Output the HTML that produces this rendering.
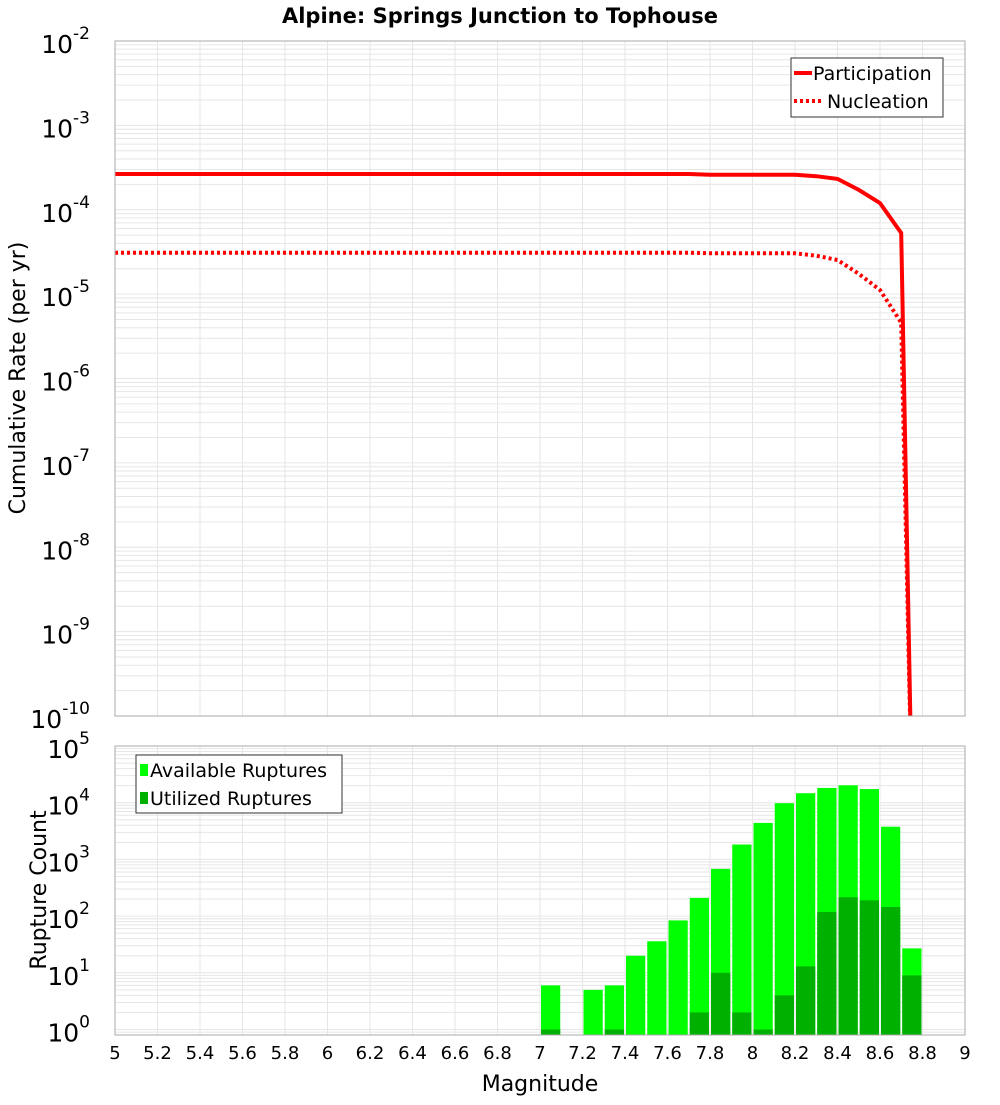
<!DOCTYPE html>
<html><head><meta charset="utf-8"><style>
body{margin:0;background:#fff;}
svg text{font-family:"DejaVu Sans","Liberation Sans",sans-serif;}
</style></head><body>
<svg id="chart" width="1000" height="1100" xmlns="http://www.w3.org/2000/svg">
<text x="500" y="23" text-anchor="middle" font-size="21" font-weight="bold">Alpine: Springs Junction to Tophouse</text>
<g id="topg"></g><g id="botg"></g>
<text transform="translate(25,378) rotate(-90)" text-anchor="middle" font-size="22">Cumulative Rate (per yr)</text>
<text transform="translate(46,890) rotate(-90)" text-anchor="middle" font-size="22">Rupture Count</text>
<text x="540" y="1091" text-anchor="middle" font-size="22">Magnitude</text>
</svg>
<script>
const mags = [5.0,5.1,5.2,5.3,5.4,5.5,5.6,5.7,5.8,5.9,6.0,6.1,6.2,6.3,6.4,6.5,6.6,6.7,6.8,6.9,7.0,7.1,7.2,7.3,7.4,7.5,7.6,7.7,7.8,7.9,8.0,8.1,8.2,8.3,8.4,8.5,8.6,8.7,8.75];
const participation = [2.65e-4,2.65e-4,2.65e-4,2.65e-4,2.65e-4,2.65e-4,2.65e-4,2.65e-4,2.65e-4,2.65e-4,2.65e-4,2.65e-4,2.65e-4,2.65e-4,2.65e-4,2.65e-4,2.65e-4,2.65e-4,2.65e-4,2.65e-4,2.65e-4,2.65e-4,2.65e-4,2.65e-4,2.65e-4,2.65e-4,2.65e-4,2.65e-4,2.6e-4,2.6e-4,2.6e-4,2.6e-4,2.6e-4,2.5e-4,2.32e-4,1.72e-4,1.2e-4,5.3e-5,1e-11];
const nucleation = [3.1e-5,3.1e-5,3.1e-5,3.1e-5,3.1e-5,3.1e-5,3.1e-5,3.1e-5,3.1e-5,3.1e-5,3.1e-5,3.1e-5,3.1e-5,3.1e-5,3.1e-5,3.1e-5,3.1e-5,3.1e-5,3.1e-5,3.1e-5,3.1e-5,3.1e-5,3.1e-5,3.1e-5,3.1e-5,3.1e-5,3.1e-5,3.1e-5,3.05e-5,3.05e-5,3.05e-5,3.05e-5,3.05e-5,2.85e-5,2.54e-5,1.74e-5,1.12e-5,4.6e-6,1e-11];
const binCenters = [7.05,7.25,7.35,7.45,7.55,7.65,7.75,7.85,7.95,8.05,8.15,8.25,8.35,8.45,8.55,8.65,8.75];
const available = [6,5,6,20,36,84,210,680,1830,4400,9800,14700,18200,20300,17400,3770,27];
const utilized = [1,0,1,0,0,0,2,10,2,1,4,13,118,215,190,145,9];
const xTicks = [5,5.2,5.4,5.6,5.8,6,6.2,6.4,6.6,6.8,7,7.2,7.4,7.6,7.8,8,8.2,8.4,8.6,8.8,9];

const NS="http://www.w3.org/2000/svg";
const L=115,R=965;
const x=m=>L+(m-5)/4*(R-L);
const T1=41,B1=716, yTop=v=>T1+(-2-Math.log10(v))/8*(B1-T1);
const T2=746,B2=1035, lmin=Math.log10(0.8), yBot=v=>B2-(Math.log10(v)-lmin)/(5-lmin)*(B2-T2);
function mk(p,tag,a){const e=document.createElementNS(NS,tag);for(const k in a)e.setAttribute(k,a[k]);p.appendChild(e);return e;}
const topG=document.getElementById('topg'), botG=document.getElementById('botg');

function grid(g,T,B,yf,dmin,dmax){
  for(let d=dmin;d<dmax;d++)for(let k=1;k<10;k++){const v=k*Math.pow(10,d);const yy=yf(v);if(yy<T-0.5||yy>B+0.5)continue;
    const ln=mk(g,'line',{x1:L,x2:R,y1:yy,y2:yy,stroke:'#e6e6e6','stroke-width':1});
    
    }
  xTicks.forEach(t=>{const ln=mk(g,'line',{x1:x(t),x2:x(t),y1:T,y2:B,stroke:'#e6e6e6','stroke-width':1});
    
    });
}
grid(topG,T1,B1,yTop,-10,-2);
grid(botG,T2,B2,yBot,-1,5);

function ylab(g,yy,e,name){const t=mk(g,'text',{x:90,y:yy+12,'text-anchor':'end','font-size':25});
  
  
  t.textContent='10';const s=mk(t,'tspan',{dy:-14,'font-size':17});s.textContent=e;}
for(let e=-2;e>=-10;e--)ylab(topG,yTop(Math.pow(10,e)),e,'top-y-tick-label');
for(let e=5;e>=0;e--)ylab(botG,yBot(Math.pow(10,e)),e,'bottom-y-tick-label');

const defs=mk(topG,'defs',{});const cp=mk(defs,'clipPath',{id:'clipTop'});mk(cp,'rect',{x:L,y:T1,width:R-L,height:B1-T1});
function line(vals,dash,name){let d='';mags.forEach((m,i)=>{d+=(i?'L':'M')+x(m).toFixed(1)+','+yTop(vals[i]).toFixed(1);});
  const p=mk(topG,'path',{d:d,fill:'none',stroke:'#ff0000','stroke-width':4,'stroke-dasharray':dash,'clip-path':'url(#clipTop)'});
  
  }
line(participation,'none','participation-line');
line(nucleation,'3,3','nucleation-line');
const f1=mk(topG,'rect',{x:L,y:T1,width:R-L,height:B1-T1,fill:'none',stroke:'#aaa','stroke-width':1});



const bw=(x(5.1)-x(5))-2;
binCenters.forEach((c,i)=>{
  const x0=x(c)-bw/2;
  const a=mk(botG,'rect',{x:x0,y:yBot(available[i]),width:bw,height:B2-yBot(available[i]),fill:'#00ff00'});
  
  
  if(utilized[i]>0){const u=mk(botG,'rect',{x:x0,y:yBot(utilized[i]),width:bw,height:B2-yBot(utilized[i]),fill:'#00b000'});
    
    }
});
const f2=mk(botG,'rect',{x:L,y:T2,width:R-L,height:B2-T2,fill:'none',stroke:'#aaa','stroke-width':1});


xTicks.forEach(t=>{const tx=mk(botG,'text',{x:x(t),y:1059,'text-anchor':'middle','font-size':18});
  
  
  tx.textContent=String(t);});

const lg=mk(topG,'g',{});


mk(lg,'rect',{x:791,y:58,width:152,height:59,fill:'#fff',stroke:'#333','stroke-width':1});
mk(lg,'line',{x1:794,x2:812,y1:73,y2:73,stroke:'#f00','stroke-width':4});
mk(lg,'line',{x1:794,x2:822,y1:101,y2:101,stroke:'#f00','stroke-width':4,'stroke-dasharray':'3,3'});
let t=mk(lg,'text',{x:813,y:80,'font-size':19});t.textContent='Participation';
t=mk(lg,'text',{x:827,y:108,'font-size':19});t.textContent='Nucleation';
const lb=mk(botG,'g',{});


mk(lb,'rect',{x:136,y:755,width:206,height:58,fill:'#fff',stroke:'#333','stroke-width':1});
mk(lb,'rect',{x:140,y:764,width:8,height:12,fill:'#00ff00'});
mk(lb,'rect',{x:140,y:792,width:8,height:12,fill:'#00b000'});
t=mk(lb,'text',{x:150,y:777,'font-size':19});t.textContent='Available Ruptures';
t=mk(lb,'text',{x:150,y:805,'font-size':19});t.textContent='Utilized Ruptures';
</script>
</body></html>
